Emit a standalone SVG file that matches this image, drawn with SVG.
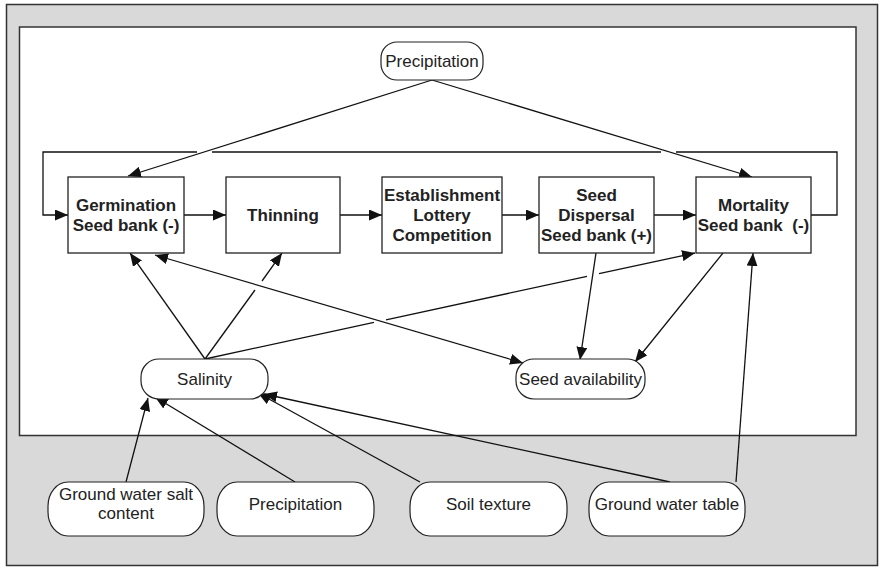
<svg xmlns="http://www.w3.org/2000/svg" width="880" height="569" viewBox="0 0 880 569">
<defs>
<marker id="ah" viewBox="0 0 13 11" refX="13" refY="5.5" markerWidth="13" markerHeight="11" markerUnits="userSpaceOnUse" orient="auto-start-reverse">
<path d="M0,0 L13,5.5 L0,11 z" fill="#111"/>
</marker>
</defs>
<style>
.frame{fill:#d9d9d9;stroke:#333;stroke-width:1.5}
.inner{fill:#fff;stroke:#333;stroke-width:1.5}
.box{fill:#fff;stroke:#222;stroke-width:1.3}
.oval{fill:#fff;stroke:#222;stroke-width:1.2}
.bt{font-family:"Liberation Sans",Arial,sans-serif;font-weight:bold;font-size:17px;fill:#222;text-anchor:middle}
.ot{font-family:"Liberation Sans",Arial,sans-serif;font-size:17px;fill:#222;text-anchor:middle}
.c{fill:none;stroke:#111;stroke-width:1.3}
.a{marker-end:url(#ah)}
</style>
<rect class="frame" x="6.5" y="4.5" width="871" height="561"/>
<rect class="inner" x="19.5" y="27" width="836.5" height="408.5"/>
<g id="connectors">
<polyline class="c" points="197,152 43,152 43,215 68,215" marker-end="url(#ah)"/>
<line class="c" x1="212" y1="152" x2="661" y2="152"/>
<polyline class="c" points="811,215 837,215 837,152 676,152"/>
<line class="c a" x1="184" y1="215" x2="226" y2="215"/>
<line class="c a" x1="340" y1="215" x2="382" y2="215"/>
<line class="c a" x1="502" y1="215" x2="539" y2="215"/>
<line class="c a" x1="654" y1="215" x2="696" y2="215"/>
<line class="c a" x1="432" y1="80" x2="128" y2="176"/>
<line class="c a" x1="432" y1="80" x2="752" y2="177"/>
<line class="c a" x1="205" y1="359" x2="130" y2="253"/>
<line class="c" x1="205" y1="359" x2="255" y2="290"/>
<line class="c a" x1="262" y1="281" x2="282" y2="253"/>
<line class="c" x1="205" y1="359" x2="374" y2="322.4"/>
<line class="c" x1="386" y1="319.8" x2="587" y2="276.3"/>
<line class="c a" x1="599" y1="273.7" x2="695" y2="253"/>
<line class="c a" x1="155" y1="255" x2="523" y2="363" marker-start="url(#ah)"/>
<line class="c a" x1="596" y1="253" x2="580" y2="360"/>
<line class="c a" x1="723" y1="253" x2="635" y2="362"/>
<line class="c a" x1="126" y1="482" x2="148" y2="398"/>
<line class="c a" x1="295" y1="482" x2="155" y2="397"/>
<line class="c a" x1="420" y1="482" x2="258" y2="393"/>
<line class="c a" x1="670" y1="482" x2="264" y2="394"/>
<line class="c a" x1="736" y1="482" x2="753" y2="253"/>
</g>
<g id="precipitation-top">
<rect class="oval" x="381" y="42" width="102" height="38" rx="16" ry="16"/>
<text class="ot" x="432" y="67">Precipitation</text>
</g>
<g id="germination">
<rect class="box" x="68" y="177" width="116" height="76"/>
<text class="bt" x="126" y="211">Germination</text>
<text class="bt" x="126" y="231">Seed bank (-)</text>
</g>
<g id="thinning">
<rect class="box" x="226" y="177" width="114" height="76"/>
<text class="bt" x="283" y="221">Thinning</text>
</g>
<g id="establishment">
<rect class="box" x="382" y="177" width="120" height="76"/>
<text class="bt" x="442" y="201">Establishment</text>
<text class="bt" x="442" y="221">Lottery</text>
<text class="bt" x="442" y="241">Competition</text>
</g>
<g id="seed-dispersal">
<rect class="box" x="539" y="177" width="115" height="76"/>
<text class="bt" x="596.5" y="201">Seed</text>
<text class="bt" x="596.5" y="221">Dispersal</text>
<text class="bt" x="596.5" y="241">Seed bank (+)</text>
</g>
<g id="mortality">
<rect class="box" x="696" y="177" width="115" height="76"/>
<text class="bt" x="753.5" y="211">Mortality</text>
<text class="bt" x="753.5" y="231" style="white-space:pre">Seed bank  (-)</text>
</g>
<g id="salinity">
<rect class="oval" x="141" y="359" width="127" height="40" rx="18" ry="18"/>
<text class="ot" x="204.5" y="385">Salinity</text>
</g>
<g id="seed-availability">
<rect class="oval" x="516" y="359" width="129" height="40" rx="18" ry="18"/>
<text class="ot" x="580.5" y="385">Seed availability</text>
</g>
<g id="ground-water-salt">
<rect class="oval" x="48" y="482" width="156" height="54" rx="20" ry="24"/>
<text class="ot" x="126" y="500">Ground water salt</text>
<text class="ot" x="126" y="519">content</text>
</g>
<g id="precipitation-bottom">
<rect class="oval" x="217" y="482" width="157" height="54" rx="20" ry="24"/>
<text class="ot" x="295.5" y="510">Precipitation</text>
</g>
<g id="soil-texture">
<rect class="oval" x="410" y="482" width="157" height="54" rx="20" ry="24"/>
<text class="ot" x="488.5" y="510">Soil texture</text>
</g>
<g id="ground-water-table">
<rect class="oval" x="589" y="482" width="156" height="54" rx="20" ry="24"/>
<text class="ot" x="667" y="510">Ground water table</text>
</g>
</svg>
